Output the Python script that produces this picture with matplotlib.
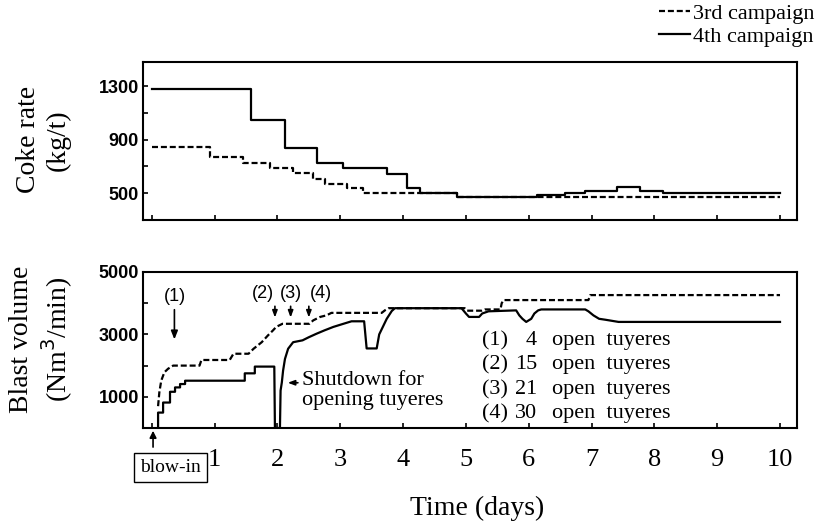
import matplotlib
matplotlib.use("Agg")
import matplotlib.pyplot as plt
from matplotlib.lines import Line2D

plt.rcParams['font.family'] = ['Liberation Serif', 'DejaVu Serif']

# --- coke rate (kg/t), step data: day where the level starts, level
coke_4th_days = [0, 1.58, 2.12, 2.63, 3.04, 3.74, 4.06, 4.27, 4.86, 6.13, 6.58, 6.9, 7.4, 7.77, 8.14, 10.0]
coke_4th_vals = [1280, 1050, 840, 725, 688, 643, 540, 500, 470, 485, 500, 520, 545, 520, 500, 500]
coke_3rd_days = [0, 0.92, 1.45, 1.88, 2.25, 2.56, 2.75, 3.1, 3.36, 4.86, 10.0]
coke_3rd_vals = [845, 770, 725, 690, 650, 605, 570, 540, 500, 470, 470]

# --- blast volume (Nm3/min), traced polylines
blast_4th_days = [0.10, 0.10, 0.18, 0.18, 0.29, 0.29, 0.37, 0.37, 0.45, 0.45, 0.53, 0.53,
                  1.48, 1.48, 1.64, 1.64, 1.95, 1.96, 2.04, 2.05, 2.07, 2.09, 2.12, 2.17,
                  2.25, 2.40, 2.50, 2.62, 2.75, 2.89, 3.05, 3.18, 3.38, 3.42, 3.58, 3.62,
                  3.68, 3.74, 3.82, 3.87, 4.93, 5.00, 5.05, 5.21, 5.26, 5.36, 5.80, 5.85,
                  5.90, 5.96, 6.04, 6.09, 6.15, 6.20, 6.90, 6.95, 7.03, 7.12, 7.22, 7.43, 10.0]
blast_4th_vals = [0, 494, 494, 816, 816, 1161, 1161, 1301, 1301, 1409, 1409, 1516,
                  1516, 1752, 1752, 1968, 1968, 0, 0, 1200, 1460, 1840, 2215, 2540,
                  2750, 2810, 2910, 3020, 3130, 3240, 3340, 3420, 3420, 2550, 2550, 3000,
                  3250, 3500, 3750, 3840, 3840, 3670, 3560, 3560, 3670, 3740, 3770, 3610,
                  3500, 3400, 3500, 3670, 3770, 3800, 3800, 3740, 3610, 3500, 3470, 3400, 3400]
blast_3rd_days = [0.10, 0.12, 0.15, 0.20, 0.26, 0.34, 0.76, 0.79, 1.24, 1.30, 1.54, 1.62,
                  1.75, 1.85, 1.93, 1.98, 2.08, 2.51, 2.57, 2.68, 2.78, 2.86, 3.66, 3.71,
                  3.77, 4.98, 5.02, 5.25, 5.30, 5.55, 5.57, 5.60, 6.95, 6.98, 10.0]
blast_3rd_vals = [700, 1140, 1516, 1785, 1900, 2000, 2000, 2180, 2180, 2380, 2380, 2540,
                  2750, 2970, 3130, 3240, 3340, 3340, 3450, 3560, 3610, 3690, 3690, 3770,
                  3840, 3840, 3760, 3760, 3800, 3800, 4000, 4100, 4100, 4260, 4260]

day_ticks = list(range(11))
day_labels = ['', '1', '2', '3', '4', '5', '6', '7', '8', '9', '10']
tuyere_tags = ['(1)', '(2)', '(3)', '(4)']
tuyere_counts = ['4', '15', '21', '30']
tuyere_marks = [0.36, 1.96, 2.21, 2.50]   # day each step was made

W, H = 819, 526
fig = plt.figure(figsize=(W / 100, H / 100), dpi=100)
ax1 = fig.add_axes([0.1746, 0.5817, 0.7985, 0.3004])
ax2 = fig.add_axes([0.1746, 0.1863, 0.7985, 0.2966])

lw = 1.6
dash = (0, (2.7, 1.3))
ax1.step(coke_3rd_days, coke_3rd_vals, where='post', color='black', lw=lw, linestyle=dash)
ax1.step(coke_4th_days, coke_4th_vals, where='post', color='black', lw=lw)
ax2.plot(blast_3rd_days, blast_3rd_vals, color='black', lw=lw, linestyle=dash)
ax2.plot(blast_4th_days, blast_4th_vals, color='black', lw=lw)

for ax in (ax1, ax2):
    ax.set_xlim(-0.14, 10.27)
    ax.set_xticks(day_ticks)
    for s in ax.spines.values():
        s.set_linewidth(1.5)
    ax.tick_params(direction='in', length=3.5, width=1.2)

ax1.set_ylim(300, 1480)
ax1.set_yticks([500, 700, 900, 1100, 1300])
ax1.set_yticklabels(['500', '', '900', '', '1300'], family='Liberation Sans',
                    fontweight='bold', fontsize=13)
ax1.set_xticklabels([])

ax2.set_ylim(0, 5000)
ax2.set_yticks([1000, 2000, 3000, 4000, 5000])
ax2.set_yticklabels(['1000', '', '3000', '', '5000'], family='Liberation Sans',
                    fontweight='bold', fontsize=13)
ax2.set_xticklabels(day_labels, fontsize=19)
ax2.tick_params(axis='x', pad=15)
ax1.tick_params(axis='y', pad=3)
ax2.tick_params(axis='y', pad=3)

# axis titles
fig.text(0.053, 0.734, 'Coke rate\n(kg/t)', rotation=90, ha='center', va='center',
         fontsize=20, linespacing=1.25, multialignment='center')
fig.text(0.051, 0.354, 'Blast volume\n(Nm$^3$/min)', rotation=90, ha='center', va='center',
         fontsize=20, linespacing=1.2, multialignment='center')
fig.text(0.583, 0.034, 'Time (days)', ha='center', va='center', fontsize=20)

# blow-in box and arrow
ax2.text(0.30, -1260, 'blow-in', ha='center', va='center', fontsize=14,
         bbox=dict(boxstyle='square,pad=0.3', fc='white', ec='black', lw=1.0),
         clip_on=False)
ax2.annotate('', xy=(0.02, 0), xytext=(0.02, -700), annotation_clip=False,
             arrowprops=dict(arrowstyle='-|>,head_length=0.4,head_width=0.2',
                             color='black', lw=1.2))

# tuyere opening markers
ax2.text(0.37, 4230, tuyere_tags[0], ha='center', va='center',
         family='Liberation Sans', fontsize=13)
ax2.annotate('', xy=(tuyere_marks[0], 2750), xytext=(tuyere_marks[0], 3880),
             arrowprops=dict(arrowstyle='-|>,head_length=0.5,head_width=0.2',
                             color='black', lw=1.2))
for tag, x_txt, x_arr in zip(tuyere_tags[1:], [1.77, 2.22, 2.70], tuyere_marks[1:]):
    ax2.text(x_txt, 4310, tag, ha='center', va='center', family='Liberation Sans',
             fontsize=13)
    ax2.annotate('', xy=(x_arr, 3450), xytext=(x_arr, 3990),
                 arrowprops=dict(arrowstyle='-|>,head_length=0.4,head_width=0.15',
                                 color='black', lw=1.2))

# shutdown note
ax2.text(2.39, 1210, 'Shutdown for\nopening tuyeres', ha='left', va='center',
         fontsize=16, linespacing=1.05)
ax2.annotate('', xy=(2.12, 1450), xytext=(2.37, 1450),
             arrowprops=dict(arrowstyle='-|>,head_length=0.4,head_width=0.15',
                             color='black', lw=1.2))

# tuyere key
for i, (tag, n) in enumerate(zip(tuyere_tags, tuyere_counts)):
    yv = 2806 - i * 785
    ax2.text(5.25, yv, tag, ha='left', va='center', fontsize=16)
    ax2.text(6.13, yv, n, ha='right', va='center', fontsize=16)
    ax2.text(6.37, yv, 'open  tuyeres', ha='left', va='center', fontsize=16)

# campaign legend
handles = [Line2D([], [], color='black', lw=lw, linestyle=dash),
           Line2D([], [], color='black', lw=lw)]
fig.legend(handles, ['3rd campaign', '4th campaign'], loc='upper right',
           bbox_to_anchor=(1.005, 1.01), frameon=False, fontsize=16,
           handlelength=1.4, handletextpad=0.1, labelspacing=0.1, borderaxespad=0)

fig.savefig('out.png', dpi=100)
